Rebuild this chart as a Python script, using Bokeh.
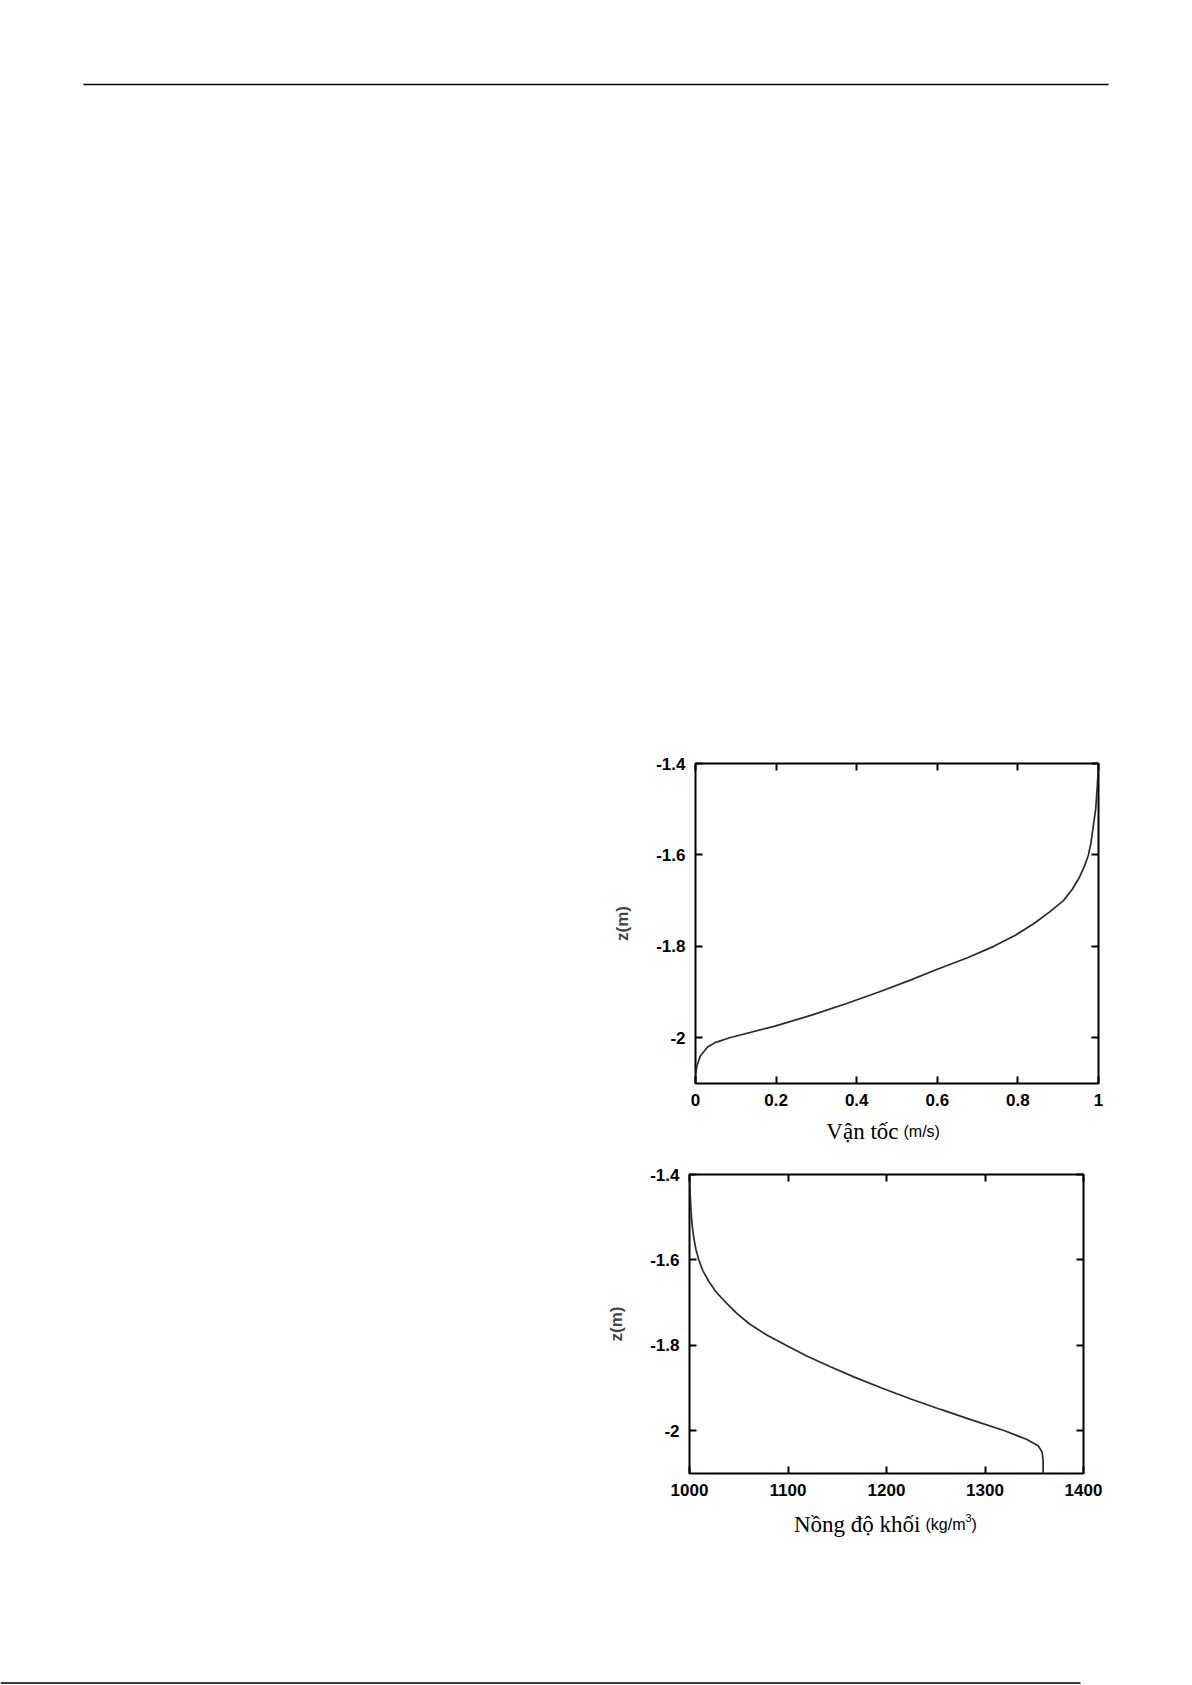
from bokeh.plotting import figure
from bokeh.models import Range1d, FixedTicker, LinearAxis, CustomJSTickFormatter, Spacer
from bokeh.core.properties import value
from bokeh.layouts import column, row
from bokeh.embed import file_html
from bokeh.resources import INLINE

# ---------------- data ----------------
vel_u = [1.0, 0.997, 0.993, 0.985, 0.981, 0.975, 0.965, 0.952, 0.935, 0.913, 0.878,
         0.840, 0.795, 0.740, 0.675, 0.600, 0.530, 0.455, 0.375, 0.290, 0.195,
         0.085, 0.050, 0.030, 0.012, 0.004, 0.0, 0.0]
vel_z = [-1.40, -1.45, -1.50, -1.55, -1.575, -1.60, -1.625, -1.65, -1.675, -1.70, -1.725,
         -1.75, -1.775, -1.80, -1.825, -1.85, -1.875, -1.90, -1.925, -1.95, -1.975,
         -2.00, -2.01, -2.02, -2.04, -2.06, -2.08, -2.10]

rho = [1000.0, 1000.8, 1001.3, 1002.0, 1003.0, 1004.5, 1006.5, 1009.5, 1013.5, 1019.5,
       1027.0, 1037.0, 1048.0, 1061.0, 1078.0, 1098.0, 1119.0, 1143.0, 1168.0, 1195.0,
       1224.0, 1255.0, 1287.0, 1320.0, 1342.0, 1354.0, 1358.0, 1359.0, 1359.0]
rho_z = [-1.40, -1.45, -1.475, -1.50, -1.525, -1.55, -1.575, -1.60, -1.625, -1.65,
         -1.675, -1.70, -1.725, -1.75, -1.775, -1.80, -1.825, -1.85, -1.875, -1.90,
         -1.925, -1.95, -1.975, -2.00, -2.02, -2.035, -2.05, -2.07, -2.10]

z_ticks = [-2.0, -1.8, -1.6, -1.4]
u_ticks = [0.0, 0.2, 0.4, 0.6, 0.8, 1.0]
rho_ticks = [1000, 1100, 1200, 1300, 1400]

z_label = "z(m)"
u_label_main, u_label_unit = "Vận tốc", ["(m/s)"]
rho_label_main, rho_label_unit = "Nồng độ khối", ["(kg/m", "3", ")"]

TICK_FONT = "Liberation Sans"
fmt_code = "return String(Math.round(tick*10)/10);"


def make_plot(xs, zs, xr, xticks, fw, fh, mbl, mbb):
    p = figure(width=mbl + fw + 40, height=15 + fh + mbb,
               frame_width=fw, frame_height=fh,
               x_range=Range1d(*xr), y_range=Range1d(-2.1, -1.4),
               output_backend="svg", toolbar_location=None,
               x_axis_location=None, y_axis_location=None,
               min_border_left=mbl, min_border_right=40,
               min_border_top=15, min_border_bottom=mbb)
    p.grid.visible = False
    p.outline_line_color = "black"
    p.outline_line_width = 2
    p.background_fill_color = "white"
    p.border_fill_color = "white"

    def styled_axis(loc, ticks, show_labels):
        ax = LinearAxis(ticker=FixedTicker(ticks=ticks),
                        formatter=CustomJSTickFormatter(code=fmt_code))
        ax.axis_line_color = None
        ax.major_tick_in = 7
        ax.major_tick_out = 0
        ax.major_tick_line_width = 2
        ax.major_tick_line_color = "black"
        ax.minor_tick_line_color = None
        if show_labels:
            ax.major_label_text_font = TICK_FONT
            ax.major_label_text_font_style = "bold"
            ax.major_label_text_font_size = "17px"
            ax.major_label_text_color = "black"
            ax.major_label_standoff = 10
        else:
            ax.major_label_text_font_size = "1px"
            ax.major_label_text_color = None
            ax.major_label_standoff = 0
        p.add_layout(ax, loc)
        return ax

    styled_axis("below", xticks, True)
    ly = styled_axis("left", z_ticks, True)
    ly.axis_label = z_label
    ly.axis_label_text_font = TICK_FONT
    ly.axis_label_text_font_style = "bold"
    ly.axis_label_text_font_size = "17px"
    ly.axis_label_standoff = 21
    styled_axis("above", xticks, False)
    styled_axis("right", z_ticks, False)

    p.line(xs, zs, line_color="#2a2a2a", line_width=1.7)
    return p


def caption(width, height, joint_x, base_y, main, unit_parts):
    c = figure(width=width, height=height, x_range=Range1d(0, width), y_range=Range1d(height, 0),
               output_backend="svg", toolbar_location=None, min_border=0,
               x_axis_location=None, y_axis_location=None)
    c.grid.visible = False
    c.outline_line_color = None
    c.text(x=[joint_x - 3], y=[base_y], text=[main], text_align="right",
           text_baseline="alphabetic", text_font=value("Liberation Serif"),
           text_font_size="23px", text_color="black")
    # unit, with optional superscript (Arial/Liberation Sans advance widths)
    adv = {"(": 0.333, ")": 0.333, "k": 0.5, "g": 0.556, "/": 0.278, "m": 0.833,
           "s": 0.5, "3": 0.556}
    x = joint_x + 2
    for i, part in enumerate(unit_parts):
        sup = (len(unit_parts) == 3 and i == 1)
        fs = 11 if sup else 16
        dy = -7 if sup else 0
        c.text(x=[x], y=[base_y + dy], text=[part], text_align="left",
               text_baseline="alphabetic", text_font=value(TICK_FONT),
               text_font_size=f"{fs}px", text_color="black")
        x += sum(adv.get(ch, 0.5) for ch in part) * fs
    return c


def rule(width, height, x0, x1, y, lw):
    h = figure(width=width, height=height, x_range=Range1d(0, width), y_range=Range1d(height, 0),
               output_backend="svg", toolbar_location=None, min_border=0,
               x_axis_location=None, y_axis_location=None)
    h.grid.visible = False
    h.outline_line_color = None
    h.segment(x0=[x0], y0=[y], x1=[x1], y1=[y], line_color="black", line_width=lw)
    return h


p1 = make_plot(vel_u, vel_z, (0.0, 1.0), u_ticks, 403, 320, mbl=100, mbb=32)
p2 = make_plot(rho, rho_z, (1000, 1400), rho_ticks, 394, 299, mbl=100, mbb=32)

cap1 = caption(1150, 36, 901, 16, u_label_main, u_label_unit)
cap2 = caption(1150, 40, 923, 19, rho_label_main, rho_label_unit)

hdr = rule(1150, 100, 83, 1108, 84, 1.5)
ftr = rule(1150, 139, 0, 1080, 137.5, 1.5)

layout = column(
    hdr,
    Spacer(height=648),
    row(Spacer(width=595), p1),
    cap1,
    Spacer(height=8),
    row(Spacer(width=589), p2),
    cap2,
    ftr,
)

open("out.html", "w").write(file_html(layout, INLINE))
